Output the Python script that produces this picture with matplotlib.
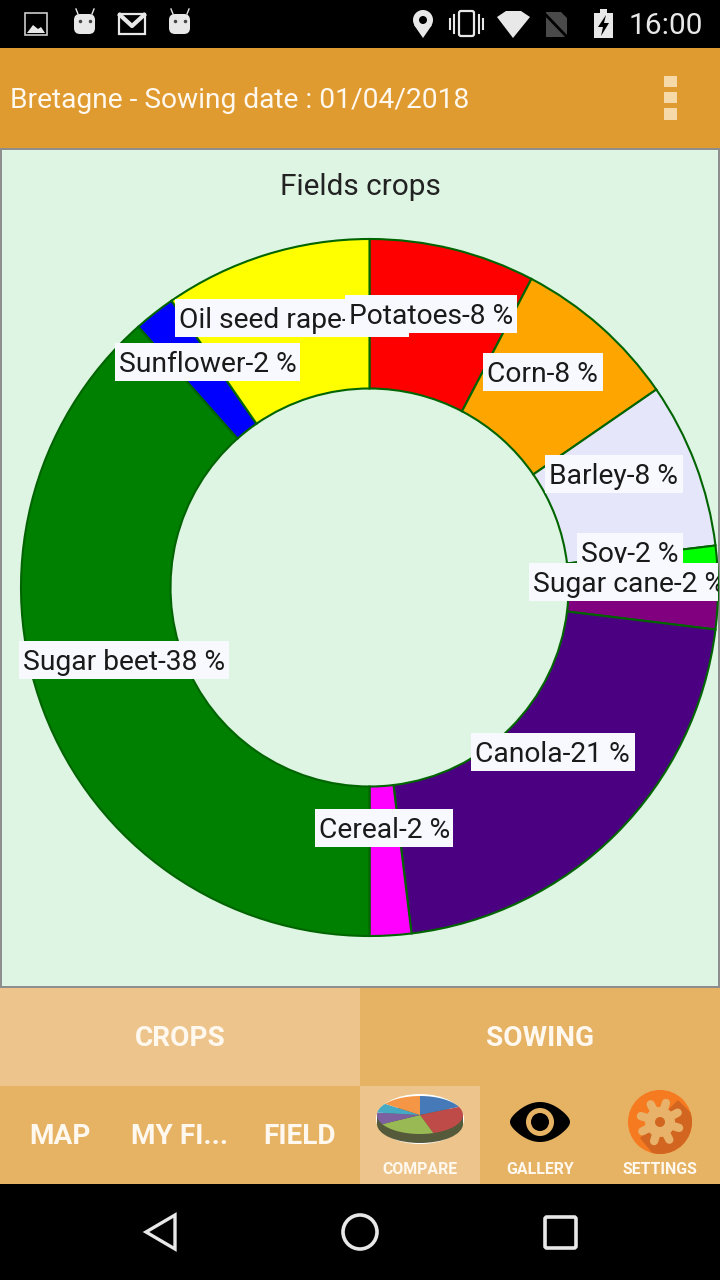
import numpy as np
import matplotlib
matplotlib.use("Agg")
from matplotlib import pyplot as plt
from matplotlib.patches import Rectangle, Circle, Polygon, Ellipse, FancyBboxPatch

plt.rcParams['font.family'] = ['Roboto', 'DejaVu Sans']

crops = ["Potatoes", "Corn", "Barley", "Soy", "Sugar cane", "Canola", "Cereal",
         "Sugar beet", "Sunflower", "Oil seed rape"]
fields = [4, 4, 4, 1, 1, 11, 1, 20, 1, 5]
colors = ["red", "orange", "lavender", "lime", "purple", "indigo", "magenta",
          "green", "blue", "yellow"]

# label boxes in screen pixels: left, top, right
label_boxes = [(345, 295, 517), (483, 353, 603), (545, 455, 683), (577, 533, 683),
               (529, 563, 720), (471, 733, 635), (315, 809, 453), (19, 641, 229),
               (115, 343, 300), (175, 299, 409)]

tabs = ["CROPS", "SOWING"]
menu = ["MAP", "MY FI...", "FIELD"]
icon_tabs = ["COMPARE", "GALLERY", "SETTINGS"]
mini_pie = [0.18, 0.27, 0.22, 0.1, 0.08, 0.15]
mini_colors = ["#4579B8", "#BE4B48", "#98B954", "#7D60A0", "#46AAC5", "#F59647"]

ORANGE = "#E09B30"
LIGHT = "#EDC58C"
MID = "#E6B263"
PANEL = "#DDF5E2"
WHITE = "#FFF8EE"

fig = plt.figure(figsize=(7.2, 12.8), dpi=100, facecolor="black")
ax = fig.add_axes([0, 0, 1, 1])

# donut, y axis is inverted below so it runs clockwise from the top
wedges, _ = ax.pie(fields, colors=colors, startangle=-90, counterclock=True,
                   center=(369.5, 587.5), radius=348.5, frame=True,
                   wedgeprops={'width': 149.5, 'edgecolor': '#006400', 'linewidth': 1.5, 'zorder': 3})
ax.set_xlim(0, 720)
ax.set_ylim(1280, 0)
ax.set_aspect('auto')
ax.axis('off')


def rect(x0, y0, x1, y1, color, z=1, **kw):
    ax.add_patch(Rectangle((x0, y0), x1 - x0, y1 - y0, facecolor=color, edgecolor='none', zorder=z, **kw))


# app background
rect(0, 48, 720, 148, ORANGE)
rect(0, 148, 720, 988, "#8E8E8E")
frame = Rectangle((2, 150), 716, 836, facecolor=PANEL, edgecolor='none', zorder=1.5)
ax.add_patch(frame)
rect(0, 988, 360, 1086, LIGHT)
rect(360, 988, 720, 1086, MID)
rect(0, 1086, 720, 1184, MID)
rect(360, 1086, 480, 1184, LIGHT)

ax.text(10, 100, "Bretagne - Sowing date : 01/04/2018", color=WHITE, fontsize=20.25,
        va='center', ha='left', zorder=5)
for y0, y1 in [(76, 87), (92, 103), (108, 120)]:
    rect(664, y0, 677, y1, "#F5D9A8", z=5)
ax.text(360, 187, "Fields crops", color="#222222", fontsize=21.4, ha='center', va='center', zorder=5)

# slice labels, oil seed rape goes underneath
order = [len(crops) - 1] + list(range(len(crops) - 1))
total = sum(fields)
for n, i in enumerate(order):
    x0, y0, x1 = label_boxes[i]
    z = 6 + n * 0.1
    box = Rectangle((x0, y0), x1 - x0, 38, facecolor="#F8F8FF", edgecolor='none', zorder=z)
    ax.add_patch(box)
    box.set_clip_path(frame)
    t = ax.text(x0 + 4, y0 + 28.5, f"{crops[i]}-{round(100 * fields[i] / total)} %",
                color="#1A1A1A", fontsize=20.3, ha='left', va='baseline', zorder=z + 0.01)
    t.set_clip_path(Rectangle((x0, y0), min(x1, 718) - x0, 38, transform=ax.transData))
    t.set_clip_on(True)

# tab bars
for cx, s in zip([180, 540], tabs):
    ax.text(cx, 1039, s, color=WHITE, fontsize=20.2, fontweight='bold', ha='center', va='center', zorder=5)
for cx, s in zip([60, 180, 300], menu):
    ax.text(cx, 1137, s, color=WHITE, fontsize=20.2, fontweight='bold', ha='center', va='center', zorder=5)
for cx, s in zip([420, 540, 660], icon_tabs):
    ax.text(cx, 1170, s, color=WHITE, fontsize=11.4, fontweight='bold', ha='center', va='center', zorder=5)

# compare icon, a little tilted pie
cx, cy, rx, ry = 420, 1115, 43, 19
ax.add_patch(Ellipse((cx, cy + 4), 2 * rx + 2, 2 * ry + 12, facecolor="white", edgecolor='none', zorder=4))
ax.add_patch(Ellipse((cx, cy + 9), 2 * rx, 2 * ry, facecolor="#555A3A", edgecolor='none', zorder=4.1))
rect(cx - rx, cy, cx + rx, cy + 9, "#555A3A", z=4.1)
ang = -np.pi / 2
for frac, c in zip(mini_pie, mini_colors):
    th = np.linspace(ang, ang + frac * 2 * np.pi, 30)
    pts = np.column_stack([cx + rx * np.cos(th), cy + ry * np.sin(th)])
    ax.add_patch(Polygon(np.vstack([[cx, cy], pts]), facecolor=c, edgecolor='none', zorder=4.2))
    ang += frac * 2 * np.pi

# gallery eye
th = np.linspace(0, 2 * np.pi, 80)
ax.add_patch(Polygon(np.column_stack([540 + 30 * np.cos(th), 1122 + 20 * np.sin(th) * (1 - 0.35 * np.cos(th) ** 2)]),
                     facecolor="black", edgecolor='none', zorder=4))
ax.add_patch(Circle((540, 1122), 14, facecolor=MID, edgecolor='none', zorder=4.1))
ax.add_patch(Circle((540, 1122), 9, facecolor="black", edgecolor='none', zorder=4.2))

# settings gear
disc = Circle((660, 1122), 32, facecolor="#F57A20", edgecolor='none', zorder=4)
ax.add_patch(disc)
shade = Polygon([[678, 1100], [700, 1122], [680, 1160], [658, 1160], [640, 1138]], facecolor="#D2651F",
                edgecolor='none', zorder=4.05)
ax.add_patch(shade)
shade.set_clip_path(disc)
ax.add_patch(Circle((660, 1122), 15, facecolor="#E8B26A", edgecolor='none', zorder=4.2))
for a in np.arange(8) * np.pi / 4 + 0.3:
    ax.plot([660, 660 + 20 * np.cos(a)], [1122, 1122 + 20 * np.sin(a)], color="#E8B26A", lw=6, zorder=4.2,
            solid_capstyle='round')
ax.add_patch(Circle((660, 1122), 5, facecolor="#D2651F", edgecolor='none', zorder=4.3))

# status bar
SB = "#E8E8E8"
ax.text(703, 25.5, "16:00", color=SB, fontsize=21.5, ha='right', va='center', zorder=5)
ax.add_patch(Rectangle((25, 13), 22, 22, facecolor='none', edgecolor="#CCCCCC", lw=1.2, zorder=5))
ax.add_patch(Polygon([[27, 33], [33, 25], [38, 29], [41, 27], [45, 33]], facecolor=SB, edgecolor='none', zorder=5))
for x0 in [73, 168]:
    ax.add_patch(FancyBboxPatch((x0 + 2, 15), 19, 18, boxstyle="round,pad=1,rounding_size=6",
                                facecolor=SB, edgecolor='none', zorder=5))
    ax.plot([x0 + 5, x0 + 3], [14, 9], color=SB, lw=1, zorder=5)
    ax.plot([x0 + 19, x0 + 21], [14, 9], color=SB, lw=1, zorder=5)
    ax.plot([x0 + 7, x0 + 17], [21, 21], ls='none', marker='o', ms=1.5, color="#444444", zorder=5.1)
ax.add_patch(Rectangle((119, 14), 26, 20, facecolor='none', edgecolor=SB, lw=1.6, zorder=5))
ax.plot([120, 132, 144], [15, 26, 15], color=SB, lw=3, zorder=5)
ax.add_patch(Circle((423, 20), 10, facecolor=SB, edgecolor='none', zorder=5))
ax.add_patch(Polygon([[414, 25], [432, 25], [423, 38]], facecolor=SB, edgecolor='none', zorder=5))
ax.add_patch(Circle((423, 20), 4, facecolor="black", edgecolor='none', zorder=5.1))
ax.add_patch(FancyBboxPatch((459, 11), 15, 25, boxstyle="round,pad=0,rounding_size=2", facecolor='none',
                            edgecolor=SB, lw=1.6, zorder=5))
for x, h in [(450, 5), (454, 9), (479, 9), (483, 5)]:
    ax.plot([x, x], [24 - h, 24 + h], color=SB, lw=1.5, zorder=5)
ax.add_patch(Polygon([[497, 17], [506, 11], [521, 11], [530, 17], [513, 38]], facecolor=SB, edgecolor='none', zorder=5))
ax.add_patch(Polygon([[546, 12], [561, 12], [567, 18], [567, 37], [546, 37]], facecolor="#4A4A4A", edgecolor='none', zorder=5))
ax.plot([544, 568], [13, 38], color="black", lw=2, zorder=5.1)
rect(594, 13, 613, 38, SB, z=5)
rect(600, 9, 607, 13, SB, z=5)
ax.add_patch(Polygon([[606, 15], [598, 27], [603, 27], [601, 36], [609, 23], [604, 23]], facecolor="black",
                     edgecolor='none', zorder=5.1))

# nav bar
ax.add_patch(Polygon([[175, 1215], [175, 1249], [146, 1232]], closed=True, facecolor='none', edgecolor=SB, lw=2.4, zorder=5))
ax.add_patch(Circle((360, 1232), 17, facecolor='none', edgecolor=SB, lw=2.6, zorder=5))
ax.add_patch(FancyBboxPatch((545, 1217), 31, 31, boxstyle="round,pad=0,rounding_size=2", facecolor='none',
                            edgecolor=SB, lw=2.6, zorder=5))

fig.savefig("out.png", dpi=100)
